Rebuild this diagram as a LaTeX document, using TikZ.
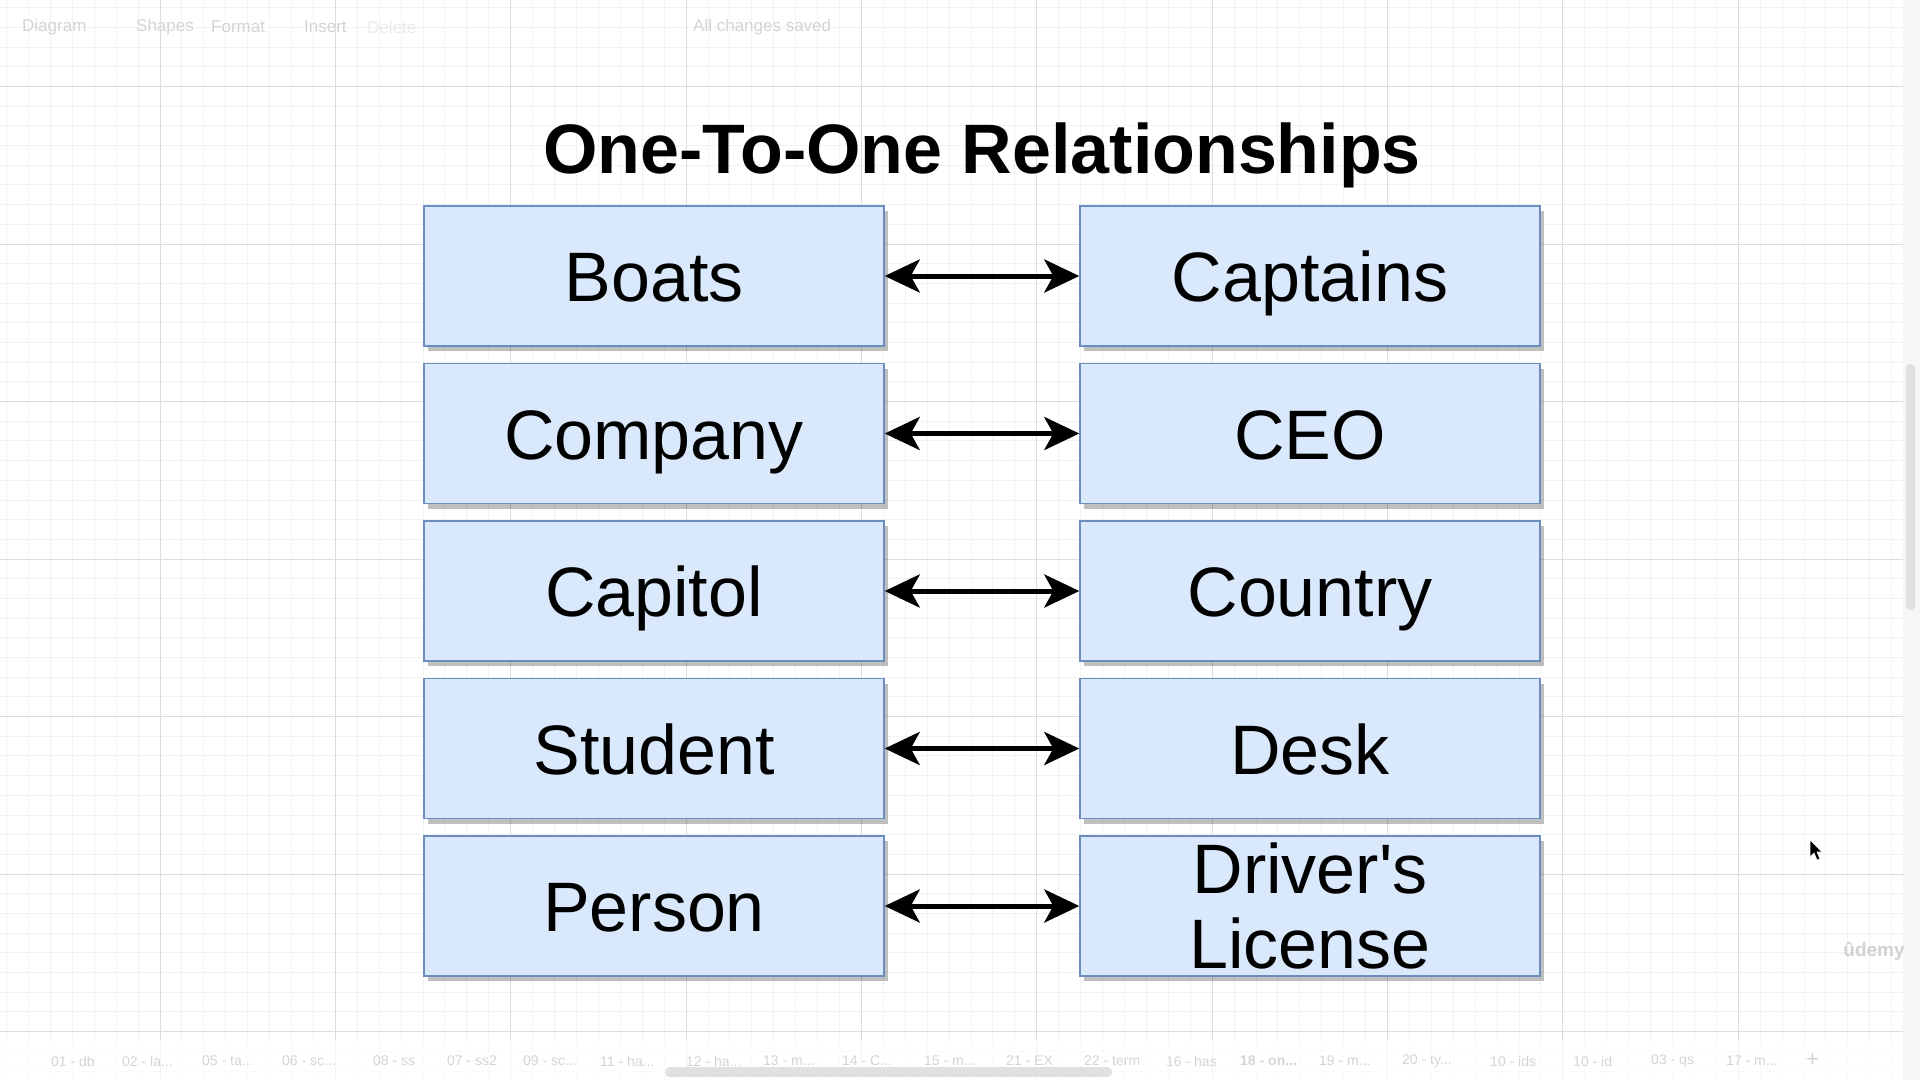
\documentclass[tikz,border=0pt]{standalone}
\usepackage{fontspec}
\setmainfont{Liberation Sans}[Ligatures=TeXOff]
\usetikzlibrary{arrows.meta,shadows}
\definecolor{boxfill}{HTML}{DAE8FC}
\definecolor{boxline}{HTML}{6C8EBF}
\definecolor{gridminor}{HTML}{F2F2F2}
\definecolor{gridmajor}{HTML}{DCDCDC}
\definecolor{uitext}{HTML}{D4D4D4}
\definecolor{panel}{HTML}{F6F6F6}
\definecolor{thumb}{HTML}{E0E0E0}
\newcommand{\tdots}{.\kern0pt.\kern0pt.}
\begin{document}
\begin{tikzpicture}[x=1pt,y=-1pt,
  gridmin/.style={draw=gridminor,line width=1pt},
  gridmaj/.style={draw=gridmajor,line width=1pt},
  entity/.style={draw=boxline,line width=1.4pt,fill=boxfill,
    minimum width=460pt,minimum height=140pt,inner sep=0pt,align=center,
    font=\fontsize{70}{75}\selectfont,
    drop shadow={shadow xshift=4pt,shadow yshift=-5pt,fill=black,opacity=0.25}},
  oneline/.style={text height=51pt,text depth=0pt},
  link/.style={line width=5pt,
    {Stealth[length=35pt,width=33pt,inset=9pt]}-{Stealth[length=35pt,width=33pt,inset=9pt]}},
  uilabel/.style={text=uitext,font=\fontsize{17}{20}\selectfont,anchor=west,inner sep=0pt},
  tablabel/.style={text=uitext,font=\fontsize{14}{16}\selectfont,anchor=west,inner sep=0pt}
]
\useasboundingbox (0,0) rectangle (1920,1080);
\fill[white] (0,0) rectangle (1920,1080);
% grid
\foreach \i in {-7,...,79}{\draw[gridmin] ({160+21.92*\i},0) -- ({160+21.92*\i},1080);}
\foreach \j in {-4,...,50}{\draw[gridmin] (0,{86.5+19.69*\j}) -- (1903,{86.5+19.69*\j});}
\foreach \i in {0,...,9}{\draw[gridmaj] ({160+175.36*\i},0) -- ({160+175.36*\i},1080);}
\foreach \j in {0,...,6}{\draw[gridmaj] (0,{86.5+157.5*\j}) -- (1903,{86.5+157.5*\j});}
% right panel and scrollbar
\fill[panel] (1903,0) rectangle (1920,1080);
\fill[thumb,rounded corners=4pt] (1906,364) rectangle (1915,610);
% bottom bar
\fill[white,opacity=0.65] (0,1040) rectangle (1903,1080);
\fill[thumb,rounded corners=5pt] (665,1067) rectangle (1112,1077);
% toolbar texts
\node[uilabel] (tb1) at (22,27) {Diagram};
\node[uilabel] (tb2) at (136,27) {Shapes};
\node[uilabel] (tb3) at (211,27) {Format};
\node[uilabel] (tb4) at (304,27) {Insert};
\node[uilabel,text=uitext!50] (tb5) at (367,27) {Delete};
\node[uilabel] (tb6) at (693,27) {All changes saved};
% bottom tabs
\foreach \x/\t [count=\k] in {51/{01 - db},122/{02 - la\tdots},202/{05 - ta\tdots},282/{06 - sc\tdots},373/{08 - ss},447/{07 - ss2},523/{09 - sc\tdots},600/{11 - ha\tdots},686/{12 - ha\tdots},763/{13 - m\tdots},842/{14 - C\tdots},924/{15 - m\tdots},1006/{21 - EX},1084/{22 - term},1166/{16 - has},1319/{19 - m\tdots},1402/{20 - ty\tdots},1490/{10 - ids},1573/{10 - id},1651/{03 - qs},1726/{17 - m\tdots}}
  {\node[tablabel] (tab\k) at (\x,1061) {\t};}
\node[tablabel,font=\bfseries\fontsize{14}{16}\selectfont] (tabcur) at (1240,1061) {18 - on\tdots};
\node[tablabel,font=\fontsize{22}{24}\selectfont] (tabplus) at (1806,1060) {+};
% watermark and cursor
\node[text=gray!35,font=\bfseries\fontsize{19}{20}\selectfont,inner sep=0pt] (udemy) at (1874,951) {ûdemy};
\fill[black,draw=white,line width=0.6pt] (1810,840) -- (1810,857) -- (1814,853) -- (1817,860) -- (1820,859) -- (1817,852) -- (1822,852) -- cycle;
% title
\node[font=\bfseries\fontsize{70}{80}\selectfont,anchor=base,inner sep=0pt] (title) at (982,173) {One-To-One Relationships};
% boxes
\node[entity,oneline] (boats) at (654,276) {Boats};
\node[entity,oneline] (captains) at (1310,276) {Captains};
\node[entity,oneline] (company) at (654,433.5) {Company};
\node[entity,oneline] (ceo) at (1310,433.5) {CEO};
\node[entity,oneline] (capitol) at (654,591) {Capitol};
\node[entity,oneline] (country) at (1310,591) {Country};
\node[entity,oneline] (student) at (654,748.5) {Student};
\node[entity,oneline] (desk) at (1310,748.5) {Desk};
\node[entity,oneline] (person) at (654,906) {Person};
\node[entity] (license) at (1310,906) {Driver's\\License};
% connectors
\draw[link] (boats.east) -- (captains.west);
\draw[link] (company.east) -- (ceo.west);
\draw[link] (capitol.east) -- (country.west);
\draw[link] (student.east) -- (desk.west);
\draw[link] (person.east) -- (license.west);
\end{tikzpicture}
\end{document}
